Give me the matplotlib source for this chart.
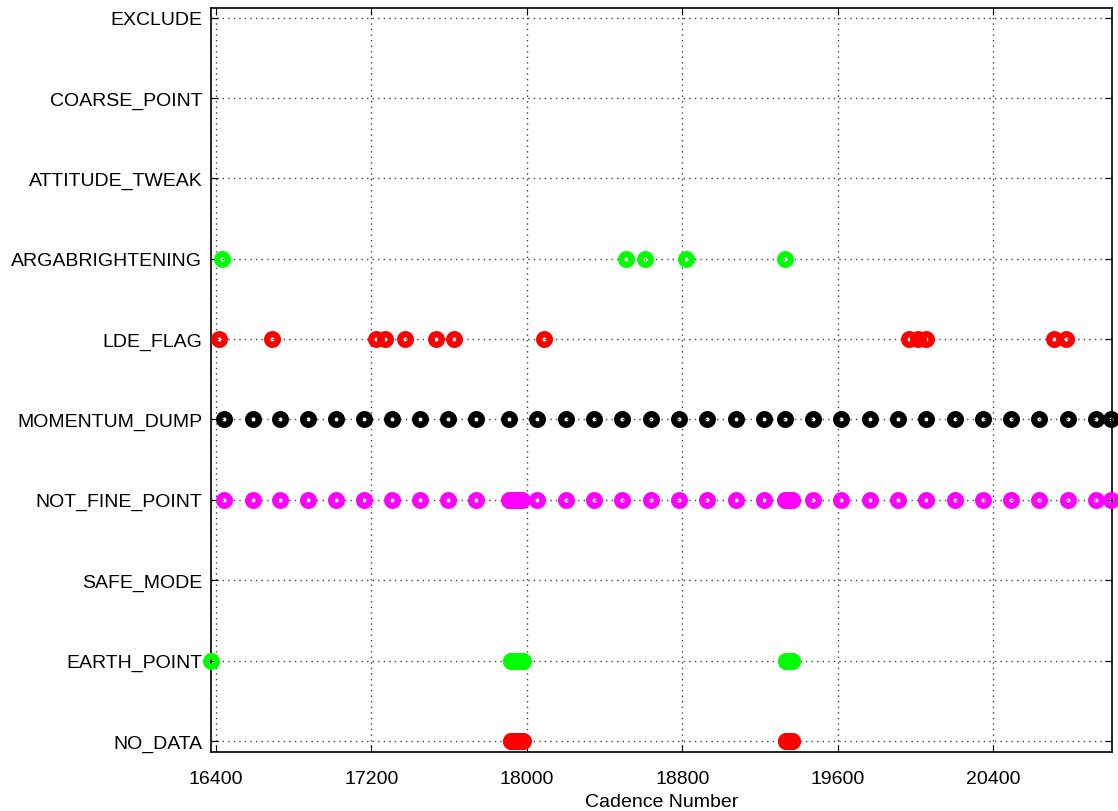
import numpy as np
import matplotlib
matplotlib.use("Agg")
import matplotlib.pyplot as plt

plt.rcParams['font.family'] = ['Liberation Sans', 'DejaVu Sans']

#-------------------------------------------------------------
# flag names (row 1 at the bottom)
#-------------------------------------------------------------
flag_names = ["NO_DATA", "EARTH_POINT", "SAFE_MODE", "NOT_FINE_POINT",
              "MOMENTUM_DUMP", "LDE_FLAG", "ARGABRIGHTENING",
              "ATTITUDE_TWEAK", "COARSE_POINT", "EXCLUDE"]
x_ticks = [16400, 17200, 18000, 18800, 19600, 20400]
x_min, x_max = 16374, 21010

#-------------------------------------------------------------
# cadences
#-------------------------------------------------------------
momentum_dump = [16443, 16589, 16730, 16873, 17018, 17162, 17304, 17449,
                 17595, 17741, 17910, 18054, 18200, 18345, 18492, 18638,
                 18784, 18929, 19075, 19220, 19327, 19470, 19616, 19765,
                 19910, 20056, 20201, 20345, 20490, 20636, 20782, 20926,
                 21006]
gap1 = [17917, 17921, 17925, 17929, 17933, 17937, 17941, 17945, 17949,
        17953, 17957, 17961, 17965, 17969, 17973, 17976, 17979]
gap2 = [19331, 19335, 19339, 19343, 19347, 19351, 19355, 19359, 19363,
        19366]
not_fine_point = momentum_dump + [17914, 17918, 17922, 17926, 17930, 17934,
                                  17938, 17942, 17946, 17950, 17954, 17958,
                                  17962, 17966, 17970, 17973] + gap2
earth_point = [16374] + gap1 + gap2
no_data = gap1 + gap2
lde_flag = [16414, 16688, 17222, 17268, 17371, 17532, 17628, 18087,
            19967, 20013, 20056, 20712, 20772]
argabrightening = [16431, 18508, 18607, 18821, 19327]

#-------------------------------------------------------------
# plot each flag on its own row
#-------------------------------------------------------------
rows = [(no_data, 1, "red"),
        (earth_point, 2, "lime"),
        (not_fine_point, 4, "magenta"),
        (momentum_dump, 5, "black"),
        (lde_flag, 6, "red"),
        (argabrightening, 7, "lime")]

fig = plt.figure(figsize=(11.18, 8.12), dpi=100)
ax = fig.add_axes([0.1885, 0.0727, 0.806, 0.9158])
for cads, row, col in rows:
    ax.plot(cads, np.full(len(cads), row), linestyle="none", marker="o",
            markersize=7.6, markeredgewidth=4.6, markeredgecolor=col,
            markerfacecolor="none", clip_on=False, zorder=3)

ax.set_xlim(x_min, x_max)
ax.set_ylim(0.863, 10.114)
ax.set_xticks(x_ticks)
ax.set_yticks(range(1, len(flag_names) + 1))
ax.set_yticklabels(flag_names)
ax.tick_params(direction="in", top=True, right=True, length=5,
               labelsize=14, pad=6)
ax.tick_params(axis="x", pad=13)
ax.grid(True, linestyle=(0, (1, 3)), color="0.25", linewidth=1.0)
ax.set_xlabel("Cadence Number", fontsize=14, labelpad=4)
for s in ax.spines.values():
    s.set_linewidth(1.2)

plt.savefig("out.png", dpi=100)
